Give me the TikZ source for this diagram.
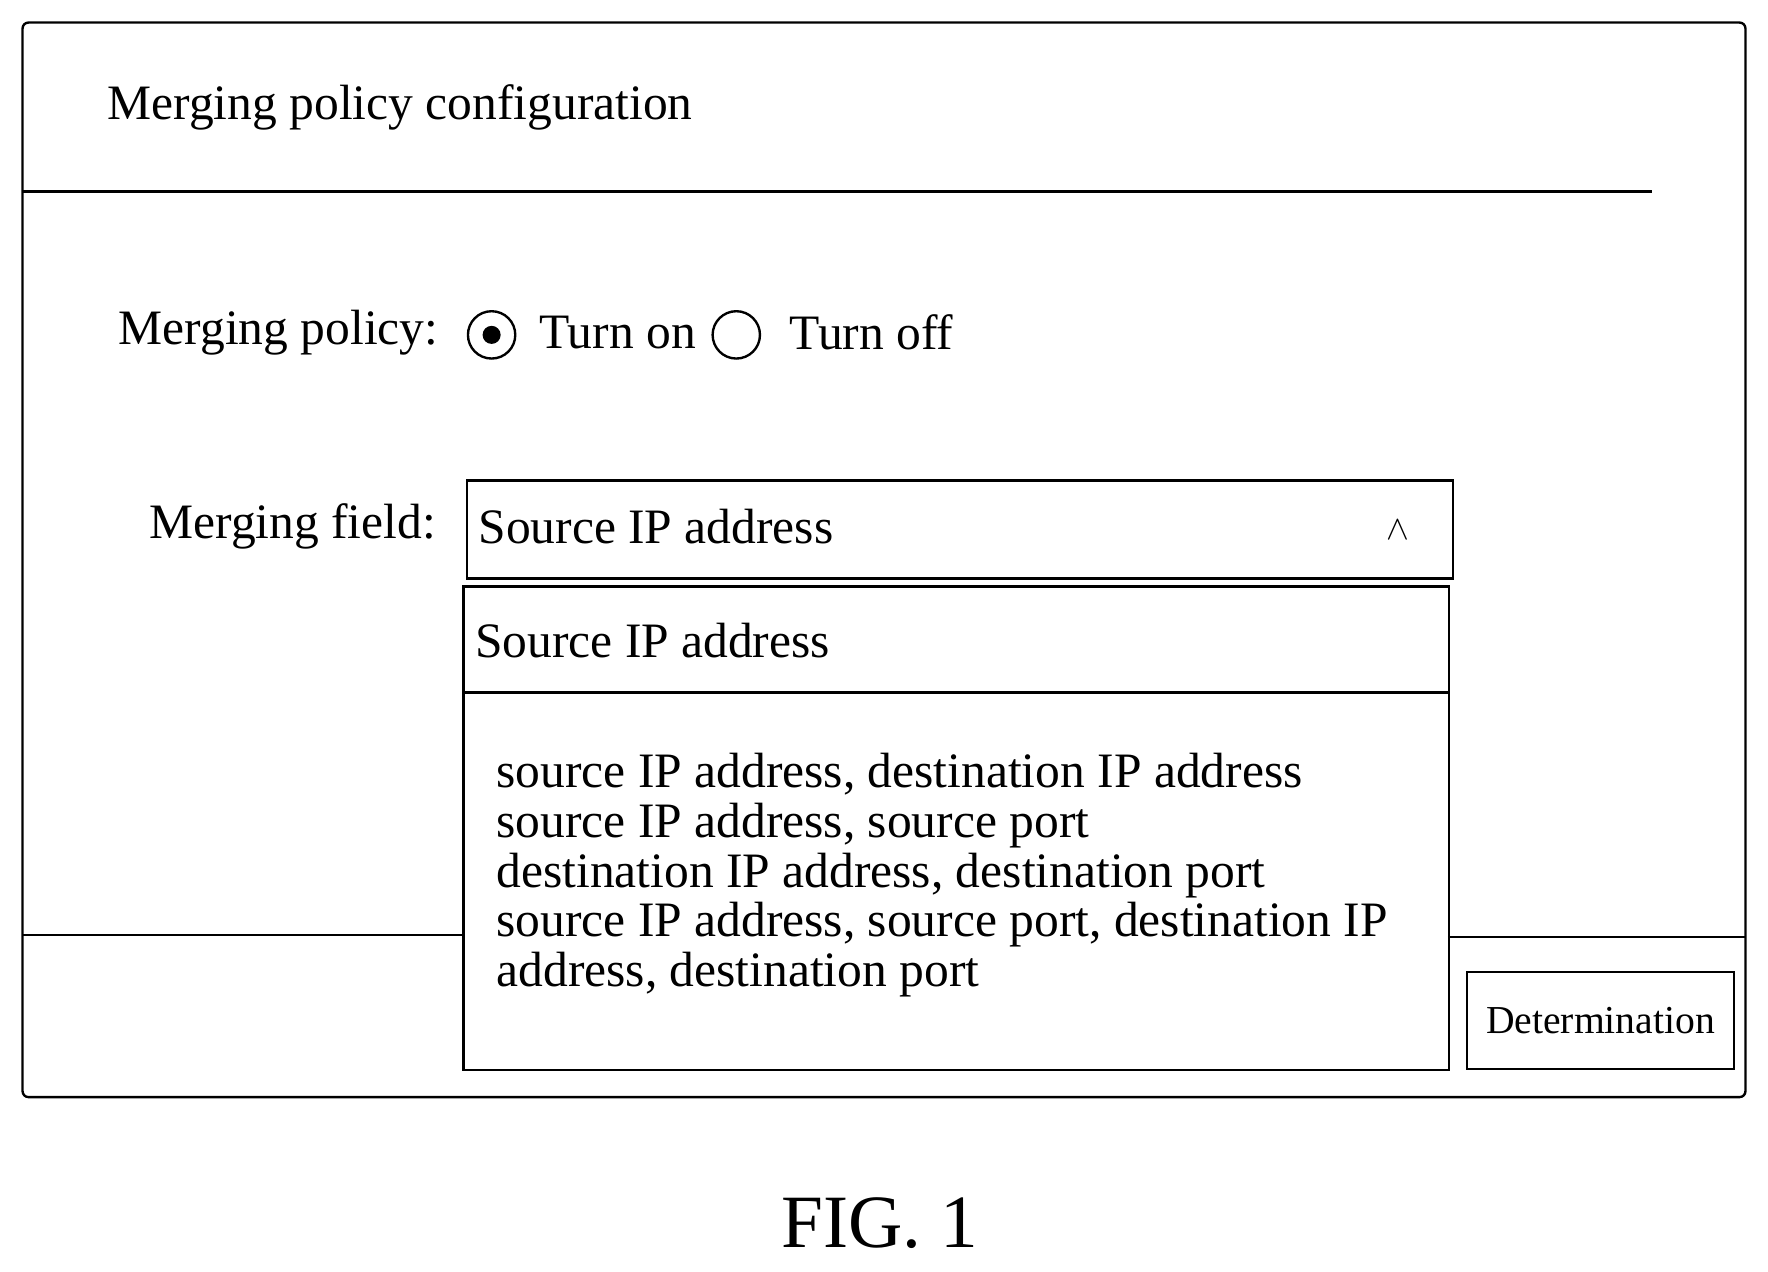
\documentclass[tikz,border=0pt]{standalone}
\usepackage{fontspec}
\setmainfont{Liberation Serif}
\begin{document}
\begin{tikzpicture}[x=0.02cm,y=-0.02cm]
  \tikzstyle{txt}=[anchor=west,inner sep=0,font=\fontsize{25}{29}\selectfont]
  \tikzstyle{frame}=[draw,line width=1.2pt]
  \tikzstyle{radio}=[circle,draw,line width=1.2pt,minimum size=0.84cm,inner sep=0]
  \useasboundingbox (0,0) rectangle (1568,1128);

  \draw[frame,rounded corners=3pt] (20,20) rectangle (1548,973);
  \coordinate (tl) at (20,170);
  \coordinate (tr) at (1465,170);
  \draw[line width=1.2pt] (tl) -- (tr);
  \node[txt] (title) at (95,95) {Merging policy configuration};

  % policy row
  \node[txt] (policy) at (105,295) {Merging policy:};
  \node[radio] (on) at (436,297) {};
  \fill (on) circle (0.16cm);
  \node[txt] (ontxt) at (478,295) {Turn on};
  \node[radio] (off) at (653,297) {};
  \node[txt] (offtxt) at (700,295) {Turn off};

  % field row
  \node[txt,anchor=east] (field) at (387,467) {Merging field:};
  \node[frame,minimum width=17.5cm,minimum height=1.74cm,anchor=north west] (sel) at (413,425) {};
  \node[txt] (seltxt) at (424,467) {Source IP address};
  \node[inner sep=0] (caret) at (1240,470) {\fontsize{18}{20}\selectfont$\wedge$};

  % dropdown list
  \node[frame,minimum width=17.48cm,minimum height=8.58cm,anchor=north west] (list) at (410,519) {};
  \coordinate (sl) at (410,614);
  \coordinate (sr) at (1284,614);
  \draw[line width=1.2pt] (sl) -- (sr);
  \node[txt] (item0) at (421,568) {Source IP address};
  \node[txt,anchor=north west,align=left,font=\fontsize{25}{25}\selectfont] (items) at (440,668)
    {source IP address, destination IP address\\
     source IP address, source port\\
     destination IP address, destination port\\
     source IP address, source port, destination IP\\
     address, destination port};

  % footer
  \coordinate (fl) at (20,829);
  \coordinate (fm) at (410,829);
  \coordinate (gl) at (1284,831);
  \coordinate (gr) at (1548,831);
  \draw[line width=1.2pt] (fl) -- (fm) (gl) -- (gr);
  \node[frame,minimum width=4.74cm,minimum height=1.72cm,font=\fontsize{20}{23}\selectfont] (ok) at (1419.5,905) {Determination};

  \node[inner sep=0,font=\fontsize{38}{42}\selectfont] (fig) at (780,1085) {FIG. 1};
\end{tikzpicture}
\end{document}
